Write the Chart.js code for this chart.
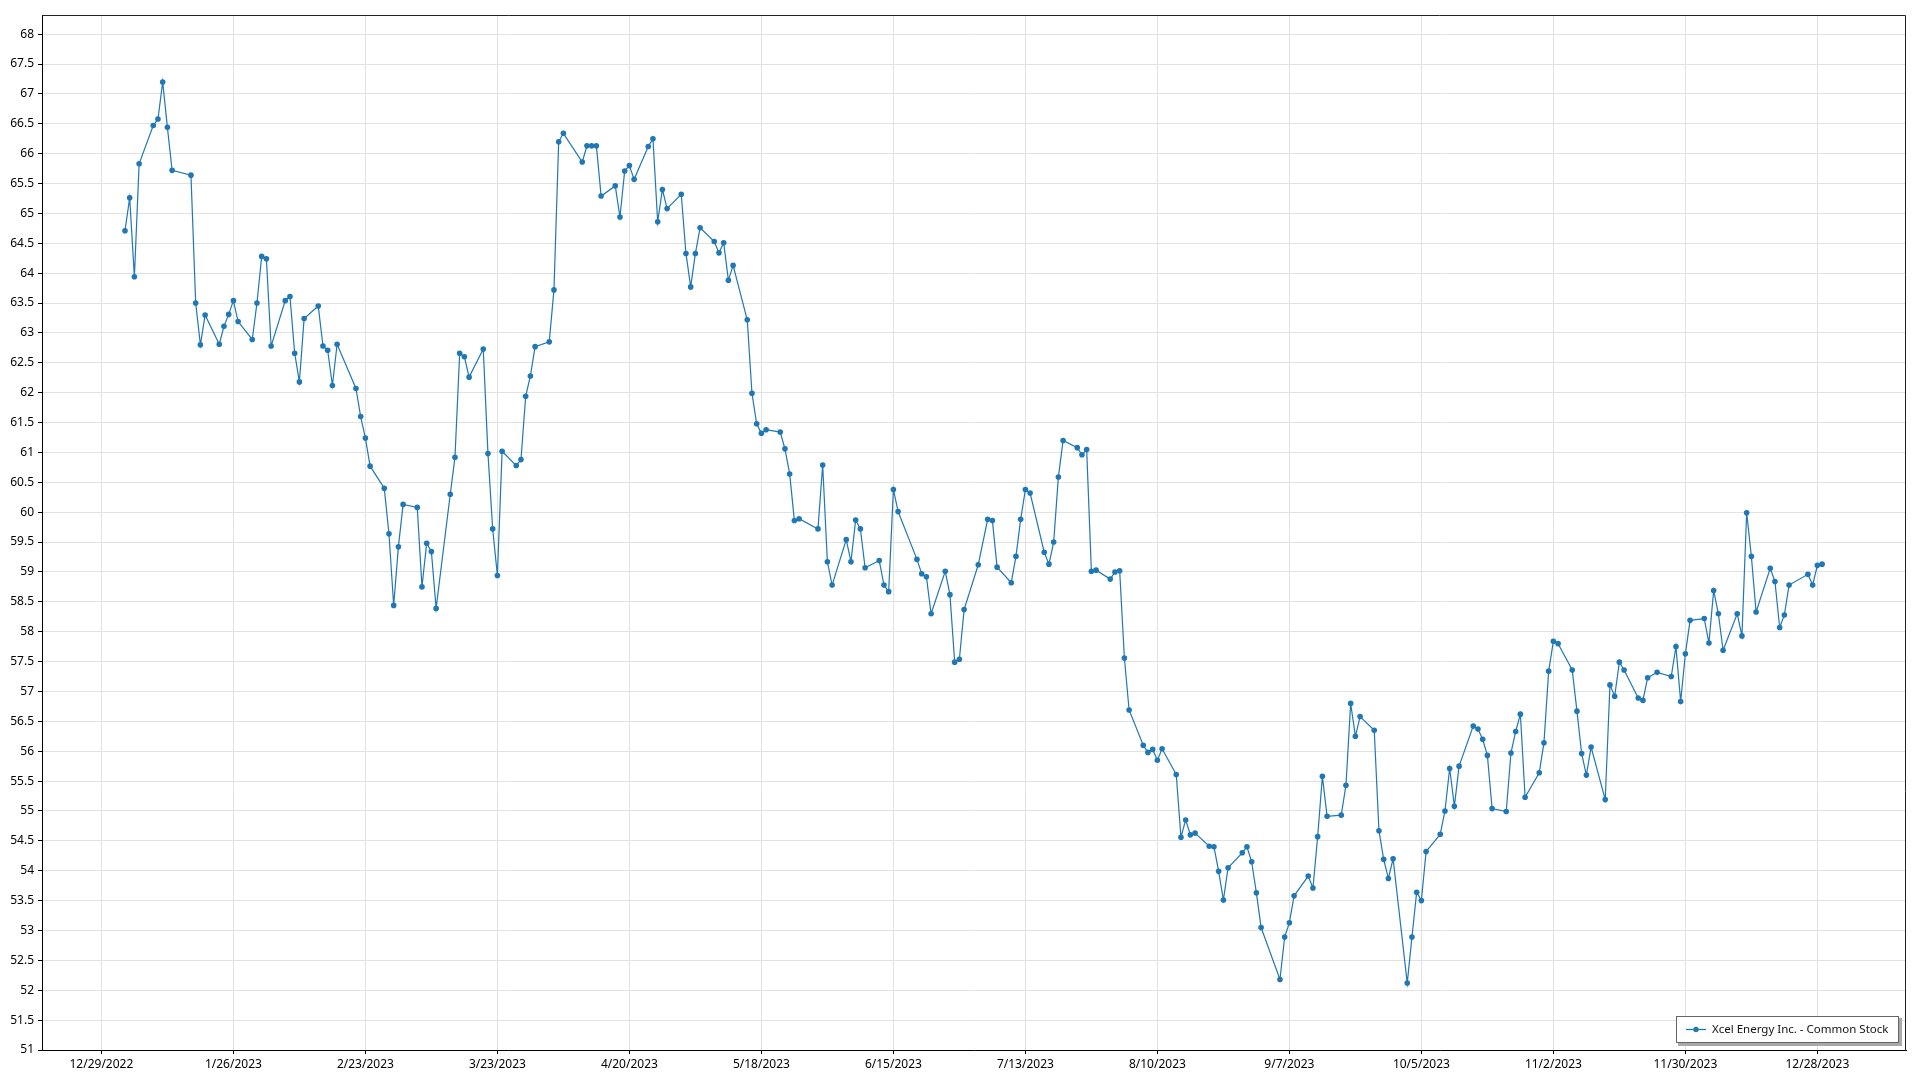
<!DOCTYPE html>
<html>
<head>
<meta charset="utf-8">
<script src="https://cdn.jsdelivr.net/npm/chart.js@4.4.1/dist/chart.umd.min.js"></script>
<style>
  html, body { margin: 0; padding: 0; background: #ffffff; }
  #wrap { position: relative; width: 1920px; height: 1080px; }
  canvas { display: block; }
</style>
</head>
<body>
<div id="wrap"><canvas id="c" width="1920" height="1080"></canvas></div>
<script>
// ---------------- DATA ----------------
const seriesName = "Xcel Energy Inc. - Common Stock";

const dates = [
  "1/3/2023","1/4/2023","1/5/2023","1/6/2023","1/9/2023","1/10/2023","1/11/2023","1/12/2023","1/13/2023","1/17/2023",
  "1/18/2023","1/19/2023","1/20/2023","1/23/2023","1/24/2023","1/25/2023","1/26/2023","1/27/2023","1/30/2023","1/31/2023",
  "2/1/2023","2/2/2023","2/3/2023","2/6/2023","2/7/2023","2/8/2023","2/9/2023","2/10/2023","2/13/2023","2/14/2023",
  "2/15/2023","2/16/2023","2/17/2023","2/21/2023","2/22/2023","2/23/2023","2/24/2023","2/27/2023","2/28/2023",
  "3/1/2023","3/2/2023","3/3/2023","3/6/2023","3/7/2023","3/8/2023","3/9/2023","3/10/2023","3/13/2023","3/14/2023",
  "3/15/2023","3/16/2023","3/17/2023","3/20/2023","3/21/2023","3/22/2023","3/23/2023","3/24/2023","3/27/2023","3/28/2023",
  "3/29/2023","3/30/2023","3/31/2023",
  "4/3/2023","4/4/2023","4/5/2023","4/6/2023","4/10/2023","4/11/2023","4/12/2023","4/13/2023","4/14/2023","4/17/2023",
  "4/18/2023","4/19/2023","4/20/2023","4/21/2023","4/24/2023","4/25/2023","4/26/2023","4/27/2023","4/28/2023",
  "5/1/2023","5/2/2023","5/3/2023","5/4/2023","5/5/2023","5/8/2023","5/9/2023","5/10/2023","5/11/2023","5/12/2023",
  "5/15/2023","5/16/2023","5/17/2023","5/18/2023","5/19/2023","5/22/2023","5/23/2023","5/24/2023","5/25/2023","5/26/2023",
  "5/30/2023","5/31/2023",
  "6/1/2023","6/2/2023","6/5/2023","6/6/2023","6/7/2023","6/8/2023","6/9/2023","6/12/2023","6/13/2023","6/14/2023",
  "6/15/2023","6/16/2023","6/20/2023","6/21/2023","6/22/2023","6/23/2023","6/26/2023","6/27/2023","6/28/2023","6/29/2023",
  "6/30/2023",
  "7/3/2023","7/5/2023","7/6/2023","7/7/2023","7/10/2023","7/11/2023","7/12/2023","7/13/2023","7/14/2023","7/17/2023",
  "7/18/2023","7/19/2023","7/20/2023","7/21/2023","7/24/2023","7/25/2023","7/26/2023","7/27/2023","7/28/2023","7/31/2023",
  "8/1/2023","8/2/2023","8/3/2023","8/4/2023","8/7/2023","8/8/2023","8/9/2023","8/10/2023","8/11/2023","8/14/2023",
  "8/15/2023","8/16/2023","8/17/2023","8/18/2023","8/21/2023","8/22/2023","8/23/2023","8/24/2023","8/25/2023","8/28/2023",
  "8/29/2023","8/30/2023","8/31/2023",
  "9/1/2023","9/5/2023","9/6/2023","9/7/2023","9/8/2023","9/11/2023","9/12/2023","9/13/2023","9/14/2023","9/15/2023",
  "9/18/2023","9/19/2023","9/20/2023","9/21/2023","9/22/2023","9/25/2023","9/26/2023","9/27/2023","9/28/2023","9/29/2023",
  "10/2/2023","10/3/2023","10/4/2023","10/5/2023","10/6/2023","10/9/2023","10/10/2023","10/11/2023","10/12/2023","10/13/2023",
  "10/16/2023","10/17/2023","10/18/2023","10/19/2023","10/20/2023","10/23/2023","10/24/2023","10/25/2023","10/26/2023","10/27/2023",
  "10/30/2023","10/31/2023",
  "11/1/2023","11/2/2023","11/3/2023","11/6/2023","11/7/2023","11/8/2023","11/9/2023","11/10/2023","11/13/2023","11/14/2023",
  "11/15/2023","11/16/2023","11/17/2023","11/20/2023","11/21/2023","11/22/2023","11/24/2023","11/27/2023","11/28/2023","11/29/2023",
  "11/30/2023",
  "12/1/2023","12/4/2023","12/5/2023","12/6/2023","12/7/2023","12/8/2023","12/11/2023","12/12/2023","12/13/2023","12/14/2023",
  "12/15/2023","12/18/2023","12/19/2023","12/20/2023","12/21/2023","12/22/2023","12/26/2023","12/27/2023","12/28/2023","12/29/2023"
];

const prices = [
  64.71,65.26,63.94,65.83,66.47,66.58,67.20,66.44,65.72,65.64,
  63.50,62.80,63.30,62.81,63.11,63.31,63.54,63.19,62.89,63.50,
  64.28,64.24,62.78,63.54,63.61,62.66,62.18,63.24,63.45,62.78,
  62.71,62.12,62.81,62.07,61.60,61.24,60.77,60.40,59.64,
  58.44,59.42,60.13,60.08,58.75,59.48,59.34,58.39,60.30,60.92,
  62.66,62.60,62.26,62.73,60.98,59.72,58.94,61.02,60.78,60.88,
  61.94,62.28,62.77,
  62.85,63.72,66.20,66.34,65.86,66.13,66.13,66.13,65.29,65.46,
  64.94,65.71,65.80,65.57,66.12,66.25,64.86,65.40,65.08,
  65.32,64.33,63.77,64.33,64.76,64.53,64.34,64.51,63.88,64.13,
  63.22,61.99,61.48,61.32,61.38,61.34,61.06,60.64,59.86,59.89,
  59.72,60.79,
  59.17,58.78,59.54,59.17,59.87,59.72,59.07,59.19,58.78,58.67,
  60.38,60.01,59.21,58.97,58.92,58.30,59.01,58.62,57.49,57.54,
  58.37,
  59.12,59.88,59.86,59.08,58.82,59.26,59.88,60.38,60.32,59.33,
  59.13,59.50,60.59,61.20,61.08,60.96,61.05,59.01,59.03,58.88,
  59.00,59.02,57.56,56.69,56.10,55.98,56.03,55.85,56.04,55.61,
  54.56,54.85,54.60,54.63,54.41,54.40,53.99,53.51,54.05,54.30,
  54.40,54.15,53.63,
  53.05,52.18,52.89,53.13,53.58,53.91,53.71,54.57,55.58,54.91,
  54.93,55.43,56.80,56.25,56.58,56.35,54.67,54.19,53.87,54.20,
  52.12,52.89,53.64,53.50,54.32,54.61,55.00,55.71,55.08,55.75,
  56.42,56.37,56.20,55.93,55.04,54.99,55.97,56.33,56.62,55.23,
  55.64,56.14,
  57.34,57.84,57.80,57.36,56.67,55.96,55.60,56.07,55.19,57.11,
  56.92,57.49,57.36,56.89,56.85,57.23,57.32,57.25,57.75,56.83,
  57.63,
  58.19,58.22,57.81,58.69,58.30,57.69,58.30,57.93,59.99,59.26,
  58.33,59.06,58.84,58.07,58.28,58.78,58.96,58.78,59.11,59.13
];

const xTickLabels = ["12/29/2022","1/26/2023","2/23/2023","3/23/2023","4/20/2023","5/18/2023","6/15/2023",
                     "7/13/2023","8/10/2023","9/7/2023","10/5/2023","11/2/2023","11/30/2023","12/28/2023"];

const yTickValues = [51,51.5,52,52.5,53,53.5,54,54.5,55,55.5,56,56.5,57,57.5,58,58.5,59,59.5,
                     60,60.5,61,61.5,62,62.5,63,63.5,64,64.5,65,65.5,66,66.5,67,67.5,68];

// ---------------- HELPERS ----------------
const DAY_MS = 86400000;
const ORIGIN = Date.UTC(2022, 11, 29);
function dayNum(s) {
  const [m, d, y] = s.split('/').map(Number);
  return (Date.UTC(y, m - 1, d) - ORIGIN) / DAY_MS;
}

const FONT = "'Segoe UI','Noto Sans','Open Sans',sans-serif";
const BLUE = '#1f77b4';
const GRID = '#e2e2e2';

Chart.defaults.font.family = FONT;
Chart.defaults.font.size = 12;
Chart.defaults.color = '#000';

// Frame (top and right border of plot area)
const framePlugin = {
  id: 'frame',
  beforeDatasetsDraw(chart) {
    const {ctx, chartArea: a} = chart;
    ctx.save();
    ctx.strokeStyle = '#222';
    ctx.lineWidth = 1;
    ctx.beginPath();
    ctx.moveTo(Math.round(a.left) + 0.5, Math.round(a.top) + 0.5);
    ctx.lineTo(Math.round(a.right) - 0.5, Math.round(a.top) + 0.5);
    ctx.lineTo(Math.round(a.right) - 0.5, Math.round(a.bottom) + 0.5);
    ctx.stroke();
    ctx.restore();
  }
};

// Legend box inside plot area, bottom-right
const boxLegendPlugin = {
  id: 'boxLegend',
  afterDraw(chart) {
    const {ctx, chartArea: a} = chart;
    const ds = chart.data.datasets[0];
    ctx.save();
    ctx.font = `11.5px ${FONT}`;
    const tw = ctx.measureText(ds.label).width;
    const w = Math.round(10 + 20 + 6 + tw + 11);
    const h = 27;
    const right = Math.round(a.right) - 7;
    const bottom = Math.round(a.bottom) - 7;
    const left = right - w, top = bottom - h;
    // shadow
    ctx.fillStyle = '#a9a9a9';
    ctx.fillRect(left + 2, top + 2, w + 1, h + 1);
    // box
    ctx.fillStyle = '#ffffff';
    ctx.fillRect(left, top, w, h);
    ctx.strokeStyle = '#666666';
    ctx.lineWidth = 1;
    ctx.strokeRect(left + 0.5, top + 0.5, w - 1, h - 1);
    // sample
    const cy = top + h / 2;
    ctx.strokeStyle = ds.borderColor;
    ctx.lineWidth = 1.3;
    ctx.beginPath();
    ctx.moveTo(left + 10, cy);
    ctx.lineTo(left + 30, cy);
    ctx.stroke();
    ctx.fillStyle = ds.borderColor;
    ctx.beginPath();
    ctx.arc(left + 20, cy, 2.7, 0, Math.PI * 2);
    ctx.fill();
    // text
    ctx.fillStyle = '#111';
    ctx.textBaseline = 'middle';
    ctx.textAlign = 'left';
    ctx.fillText(ds.label, left + 36, cy);
    ctx.restore();
  }
};

new Chart(document.getElementById('c').getContext('2d'), {
  type: 'line',
  data: {
    datasets: [{
      label: seriesName,
      data: dates.map((d, i) => ({x: dayNum(d), y: prices[i]})),
      borderColor: BLUE,
      backgroundColor: BLUE,
      borderWidth: 1.2,
      pointRadius: 2.8,
      pointBorderWidth: 0,
      pointBackgroundColor: BLUE,
      tension: 0,
      fill: false
    }]
  },
  options: {
    responsive: false,
    animation: false,
    devicePixelRatio: 1,
    layout: { padding: { top: 15, right: 14, bottom: 0, left: 0 } },
    plugins: { legend: { display: false }, tooltip: { enabled: false } },
    scales: {
      x: {
        type: 'linear',
        min: -12.6,
        max: 382.8,
        afterBuildTicks: s => { s.ticks = xTickLabels.map(l => ({value: dayNum(l)})); },
        afterFit: s => { s.height = 30; },
        ticks: {
          autoSkip: false, maxRotation: 0, minRotation: 0, padding: 3,
          color: '#000', font: { size: 12 },
          callback: (v, i) => xTickLabels[i]
        },
        grid: { color: GRID, tickColor: '#000', tickLength: 4, lineWidth: 1 },
        border: { color: '#000', width: 1 }
      },
      y: {
        min: 51,
        max: 68.32,
        afterBuildTicks: s => { s.ticks = yTickValues.map(v => ({value: v})); },
        afterFit: s => { s.width = 42; },
        ticks: {
          autoSkip: false, padding: 4, color: '#000', font: { size: 12 },
          callback: v => String(v)
        },
        grid: { color: GRID, tickColor: '#000', tickLength: 4, lineWidth: 1 },
        border: { color: '#000', width: 1 }
      }
    }
  },
  plugins: [framePlugin, boxLegendPlugin]
});
</script>
</body>
</html>
